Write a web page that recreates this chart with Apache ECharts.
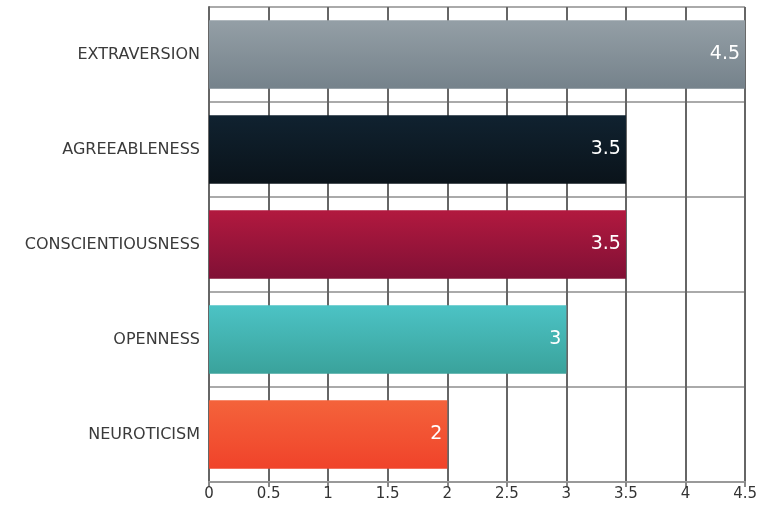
<!DOCTYPE html>
<html>
<head>
<meta charset="utf-8">
<script src="https://cdn.jsdelivr.net/npm/echarts@6/dist/echarts.min.js"></script>
<style>
html,body{margin:0;padding:0;background:#fff;}
#chart{width:760px;height:505px;}
</style>
</head>
<body>
<div id="chart"></div>
<script>
var categories = ['NEUROTICISM', 'OPENNESS', 'CONSCIENTIOUSNESS', 'AGREEABLENESS', 'EXTRAVERSION'];
var values = [2, 3, 3.5, 3.5, 4.5];
var gradients = [
  ['#f4633b', '#f0432a'],
  ['#4cc3c5', '#3aa29b'],
  ['#b2193f', '#801035'],
  ['#102230', '#0a131a'],
  ['#949fa6', '#75828b']
];
var xMin = 0, xMax = 4.5, xStep = 0.5;

var chart = echarts.init(document.getElementById('chart'));
var data = values.map(function (v, i) {
  return {
    value: v,
    itemStyle: {
      color: new echarts.graphic.LinearGradient(0, 0, 0, 1, [
        { offset: 0, color: gradients[i][0] },
        { offset: 1, color: gradients[i][1] }
      ])
    }
  };
});
chart.setOption({
  animation: false,
  grid: { left: 209, right: 12, top: 7, bottom: 23, containLabel: false },
  xAxis: {
    type: 'value', min: xMin, max: xMax, interval: xStep,
    axisLine: { show: true, lineStyle: { color: '#999', width: 2 } },
    axisTick: { show: true, length: 5, lineStyle: { color: '#888', width: 2 } },
    axisLabel: { color: '#333', fontFamily: 'DejaVu Sans', fontSize: 15, margin: 5 },
    splitLine: { show: true, lineStyle: { color: '#666', width: 2 } }
  },
  yAxis: {
    type: 'category', data: categories,
    axisLine: { show: true, lineStyle: { color: '#666', width: 2 } },
    axisTick: { show: false },
    axisLabel: { color: '#3a3a3a', fontFamily: 'DejaVu Sans', fontSize: 16, margin: 9 },
    splitLine: { show: true, lineStyle: { color: '#aaa', width: 2 } }
  },
  series: [{
    type: 'bar',
    data: data,
    barWidth: '72%',
    label: {
      show: true, position: 'insideRight', color: '#fff',
      fontFamily: 'DejaVu Sans', fontSize: 19, distance: 5
    }
  }]
});
</script>
</body>
</html>
